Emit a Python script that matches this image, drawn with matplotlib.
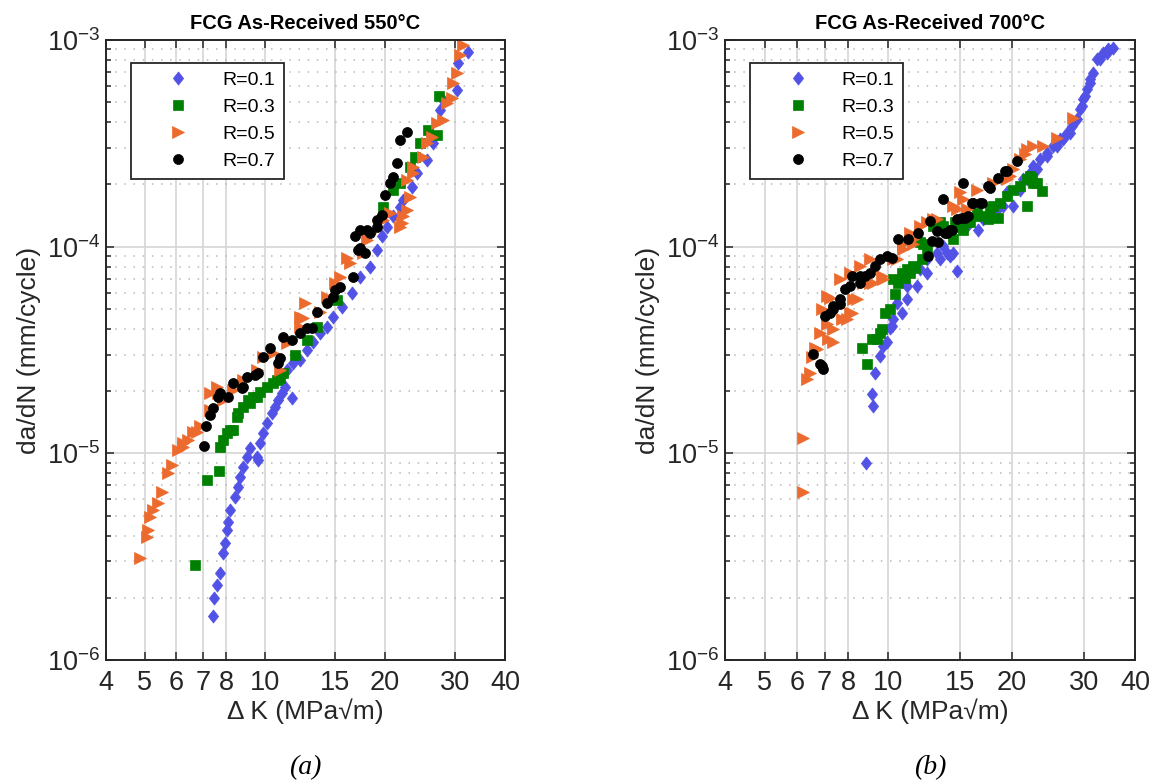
import numpy as np
import matplotlib
matplotlib.use('Agg')
import matplotlib.pyplot as plt
from matplotlib.ticker import FixedLocator, FixedFormatter, NullLocator, LogLocator

plt.rcParams['font.family'] = ['Liberation Sans', 'DejaVu Sans']
plt.rcParams['mathtext.fontset'] = 'custom'
plt.rcParams['mathtext.rm'] = 'Liberation Sans'
plt.rcParams['mathtext.it'] = 'Liberation Sans:italic'
plt.rcParams['mathtext.bf'] = 'Liberation Sans:bold'

# ---------------- data ----------------
# (a) 550 C
dk_550_r01 = [7.40, 7.47, 7.60, 7.72, 7.87, 7.95, 8.03, 8.10, 8.18, 8.42, 8.58, 8.67, 8.84, 9.01,
              9.19, 9.55, 9.62, 9.73, 9.91, 10.11, 10.41, 10.61, 10.81, 11.03, 11.24, 11.68, 11.35,
              11.79, 12.25, 12.74, 13.23, 13.75, 14.30, 14.85, 15.59, 16.52, 17.32, 18.35, 19.07,
              19.64, 20.21, 20.99, 21.82, 22.2, 23.35, 24.03, 25.46, 26.45, 27.49, 28.02, 30.26,
              30.55, 32.37]
dadn_550_r01 = [1.63e-6, 1.99e-6, 2.31e-6, 2.63e-6, 3.29e-6, 3.69e-6, 4.26e-6, 4.67e-6, 5.32e-6,
                6.17e-6, 6.90e-6, 7.71e-6, 8.63e-6, 9.64e-6, 1.06e-5, 9.64e-6, 9.29e-6, 1.12e-5,
                1.25e-5, 1.40e-5, 1.56e-5, 1.68e-5, 1.81e-5, 1.95e-5, 2.10e-5, 1.85e-5, 2.53e-5,
                2.73e-5, 2.83e-5, 3.16e-5, 3.47e-5, 3.81e-5, 4.10e-5, 4.58e-5, 5.13e-5, 5.95e-5,
                7.16e-5, 8.0e-5, 9.64e-5, 1.12e-4, 1.25e-4, 1.40e-4, 1.56e-4, 1.68e-4, 1.95e-4,
                2.26e-4, 2.63e-4, 3.16e-4, 4.58e-4, 5.13e-4, 5.73e-4, 7.71e-4, 8.78e-4]

dk_550_r03 = [6.69, 7.15, 7.69, 7.72, 7.87, 8.03, 8.18, 8.34, 8.50, 8.58, 8.84, 9.09, 9.19, 9.36,
              9.55, 9.73, 10.11, 10.50, 10.71, 10.92, 11.13, 11.90, 12.74, 13.49, 15.14, 19.82,
              20.99, 21.82, 23.12, 23.8, 24.5, 25.7, 26.97, 27.4]
dadn_550_r03 = [2.88e-6, 7.43e-6, 8.24e-6, 1.077e-5, 1.161e-5, 1.25e-5, 1.30e-5, 1.30e-5, 1.505e-5,
                1.56e-5, 1.68e-5, 1.81e-5, 1.745e-5, 1.88e-5, 1.88e-5, 1.99e-5, 2.10e-5, 2.18e-5,
                2.26e-5, 2.31e-5, 2.44e-5, 2.99e-5, 3.54e-5, 4.10e-5, 5.52e-5, 1.56e-4, 1.88e-4,
                2.03e-4, 2.44e-4, 2.72e-4, 3.16e-4, 3.67e-4, 3.47e-4, 5.36e-4]

dk_550_r05 = [4.87, 5.06, 5.11, 5.16, 5.25, 5.41, 5.52, 5.73, 5.85, 6.07, 6.25, 6.25, 6.43, 6.62,
              6.75, 6.88, 7.29, 7.29, 7.58, 7.65, 7.87, 8.34, 8.84, 9.55, 9.91, 10.50, 10.92, 11.35,
              12.25, 12.25, 12.49, 12.61, 13.75, 14.30, 15.0, 15.44, 16.05, 16.35, 17.65, 18.01,
              18.35, 19.82, 20.6, 21.82, 22.04, 22.25, 22.68, 23.12, 22.68, 23.57, 23.57, 24.97,
              25.46, 26.2, 26.97, 28.02, 28.58, 29.41, 29.69, 30.26, 30.85, 31.45]
dadn_550_r05 = [3.11e-6, 3.95e-6, 4.26e-6, 4.94e-6, 5.32e-6, 5.74e-6, 6.53e-6, 8.01e-6, 8.79e-6,
                1.038e-5, 1.077e-5, 1.12e-5, 1.161e-5, 1.27e-5, 1.27e-5, 1.35e-5, 1.62e-5, 1.95e-5,
                2.10e-5, 1.95e-5, 1.81e-5, 2.03e-5, 2.26e-5, 2.53e-5, 2.94e-5, 3.05e-5, 2.53e-5,
                3.41e-5, 4.10e-5, 4.58e-5, 4.50e-5, 5.32e-5, 4.85e-5, 5.73e-5, 6.65e-5, 7.16e-5,
                8.79e-5, 8.31e-5, 9.29e-5, 1.077e-4, 1.161e-4, 1.35e-4, 1.45e-4, 1.25e-4, 1.30e-4,
                1.40e-4, 1.505e-4, 1.745e-4, 2.10e-4, 2.26e-4, 2.44e-4, 2.72e-4, 3.16e-4, 3.40e-4,
                3.95e-4, 4.10e-4, 4.94e-4, 5.22e-4, 6.17e-4, 6.90e-4, 8.46e-4, 9.46e-4]

dk_550_r07 = [7.04, 7.12, 7.29, 7.43, 7.65, 7.72, 8.10, 8.34, 8.75, 8.84, 9.01, 9.45, 9.63, 9.91,
              10.3, 10.81, 10.92, 11.13, 11.68, 12.25, 12.74, 13.1, 13.49, 14.30, 14.85, 15.0, 15.44,
              16.67, 17.16, 17.32, 17.83, 16.83, 17.32, 18.0, 18.35, 19.07, 19.07, 19.64, 20.0, 20.6,
              20.99, 21.4, 21.82, 22.68]
dadn_550_r07 = [1.089e-5, 1.35e-5, 1.53e-5, 1.65e-5, 1.88e-5, 1.95e-5, 1.88e-5, 2.18e-5, 2.07e-5,
                2.10e-5, 2.35e-5, 2.39e-5, 2.44e-5, 2.94e-5, 3.22e-5, 2.73e-5, 2.88e-5, 3.67e-5,
                3.54e-5, 3.81e-5, 4.03e-5, 4.03e-5, 4.85e-5, 5.32e-5, 5.73e-5, 6.17e-5, 6.40e-5,
                7.16e-5, 9.64e-5, 9.82e-5, 9.29e-5, 1.12e-4, 1.20e-4, 1.20e-4, 1.161e-4, 1.25e-4,
                1.35e-4, 1.42e-4, 1.78e-4, 2.03e-4, 2.18e-4, 2.53e-4, 3.28e-4, 3.60e-4]

# (b) 700 C
dk_700_r01 = [8.83, 9.12, 9.20, 9.29, 9.55, 9.73, 9.92, 10.10, 10.20, 10.29, 10.79, 10.49, 11.10,
              11.10, 11.74, 11.96, 12.42, 12.42, 13.13, 13.38, 13.63, 13.89, 14.16, 14.42, 14.70,
              15.54, 16.59, 17.06, 17.72, 18.40, 18.74, 19.09, 19.46, 20.2, 20.97, 21.36, 21.78,
              22.18, 22.6, 23.03, 23.46, 24.36, 24.36, 25.28, 25.77, 26.25, 26.74, 27.26, 27.77,
              28.04, 28.83, 29.37, 29.65, 29.92, 30.2, 30.5, 31.06, 31.06, 31.65, 32.26, 32.86,
              33.48, 34.12, 34.43, 35.42]
dadn_700_r01 = [8.95e-6, 1.93e-5, 1.70e-5, 2.46e-5, 2.96e-5, 3.31e-5, 3.44e-5, 4.06e-5, 4.13e-5,
                4.45e-5, 4.80e-5, 5.36e-5, 5.56e-5, 6.45e-5, 6.45e-5, 7.78e-5, 7.49e-5, 8.69e-5,
                9.36e-5, 8.69e-5, 1.01e-4, 9.36e-5, 9.02e-5, 9.36e-5, 7.6e-5, 1.26e-4, 1.21e-4,
                1.36e-4, 1.46e-4, 1.52e-4, 1.57e-4, 1.57e-4, 1.83e-4, 1.57e-4, 1.89e-4, 2.12e-4,
                2.12e-4, 2.28e-4, 2.46e-4, 2.37e-4, 2.65e-4, 2.75e-4, 2.85e-4, 3.07e-4, 3.07e-4,
                3.31e-4, 3.31e-4, 3.56e-4, 3.56e-4, 3.84e-4, 4.13e-4, 4.62e-4, 4.79e-4, 5.16e-4,
                5.36e-4, 5.77e-4, 6.22e-4, 6.45e-4, 6.95e-4, 8.06e-4, 8.06e-4, 8.69e-4, 8.69e-4,
                9.02e-4, 9.19e-4]

dk_700_r03 = [8.62, 8.87, 9.12, 9.38, 9.55, 9.64, 9.82, 10.10, 10.39, 10.59, 10.29, 10.99, 10.79,
              11.31, 11.10, 11.62, 11.52, 12.07, 12.42, 12.18, 11.96, 12.88, 13.38, 13.63, 14.16,
              14.42, 14.56, 15.12, 15.25, 15.54, 15.83, 16.44, 16.75, 17.55, 18.56, 17.72, 18.05,
              18.74, 19.46, 20.2, 20.97, 21.78, 22.18, 22.39, 22.6, 23.03, 23.69, 21.78]
dadn_700_r03 = [3.25e-5, 2.70e-5, 3.56e-5, 3.56e-5, 3.84e-5, 3.98e-5, 4.80e-5, 4.98e-5, 5.88e-5,
                6.70e-5, 6.95e-5, 7.09e-5, 7.49e-5, 7.49e-5, 7.78e-5, 7.92e-5, 8.07e-5, 8.69e-5,
                9.71e-5, 1.03e-4, 1.05e-4, 1.26e-4, 1.31e-4, 1.26e-4, 1.21e-4, 1.09e-4, 1.31e-4,
                1.24e-4, 1.21e-4, 1.31e-4, 1.31e-4, 1.46e-4, 1.41e-4, 1.36e-4, 1.38e-4, 1.52e-4,
                1.57e-4, 1.63e-4, 1.76e-4, 1.89e-4, 1.97e-4, 2.12e-4, 2.20e-4, 2.16e-4, 2.04e-4,
                2.04e-4, 1.86e-4, 1.57e-4]

dk_700_r05 = [6.21, 6.21, 6.33, 6.45, 6.51, 6.63, 6.70, 6.82, 6.89, 7.08, 7.08, 7.15, 7.21, 7.35,
              7.35, 7.63, 7.70, 7.92, 8.07, 8.07, 8.15, 8.22, 8.38, 8.54, 8.70, 9.03, 9.03, 9.20,
              9.64, 9.73, 10.29, 10.49, 10.89, 10.89, 11.31, 11.52, 11.52, 11.96, 12.42, 12.88,
              13.13, 14.42, 14.70, 14.97, 15.25, 15.54, 16.44, 18.05, 19.46, 19.82, 20.2, 20.97,
              21.57, 21.78, 22.6, 23.9, 25.77, 28.28]
dadn_700_r05 = [6.51e-6, 1.19e-5, 2.28e-5, 2.46e-5, 2.91e-5, 3.25e-5, 3.19e-5, 3.84e-5, 4.98e-5,
                4.21e-5, 5.77e-5, 3.56e-5, 5.67e-5, 3.44e-5, 3.98e-5, 6.95e-5, 4.45e-5, 4.45e-5,
                4.80e-5, 7.49e-5, 4.80e-5, 5.56e-5, 5.56e-5, 8.07e-5, 6.70e-5, 6.70e-5, 8.69e-5,
                6.70e-5, 7.21e-5, 6.95e-5, 8.69e-5, 8.69e-5, 9.71e-5, 1.03e-4, 1.17e-4, 1.03e-4,
                1.09e-4, 1.26e-4, 1.31e-4, 1.36e-4, 1.36e-4, 1.57e-4, 1.52e-4, 1.83e-4, 1.70e-4,
                1.52e-4, 1.89e-4, 2.04e-4, 2.12e-4, 2.20e-4, 2.37e-4, 2.65e-4, 2.80e-4, 2.96e-4,
                3.07e-4, 3.07e-4, 3.37e-4, 4.21e-4]

dk_700_r07 = [6.57, 6.82, 6.89, 6.95, 7.01, 7.21, 7.35, 7.35, 7.63, 7.63, 7.85, 8.07, 8.15, 8.54,
              8.54, 8.78, 9.03, 9.29, 9.55, 9.92, 10.20, 10.59, 11.2, 11.85, 12.53, 12.65, 12.77,
              13.13, 13.26, 13.63, 13.76, 13.89, 14.16, 14.29, 14.70, 15.12, 15.40, 15.68, 15.25,
              15.99, 16.13, 16.75, 16.91, 17.55, 17.72, 18.56, 19.28, 19.46, 20.58]
dadn_700_r07 = [3.02e-5, 2.70e-5, 2.65e-5, 2.55e-5, 4.62e-5, 4.80e-5, 5.16e-5, 4.98e-5, 5.26e-5,
                5.56e-5, 6.22e-5, 6.45e-5, 7.21e-5, 6.70e-5, 7.21e-5, 7.21e-5, 7.49e-5, 8.07e-5,
                8.69e-5, 9.02e-5, 8.86e-5, 1.09e-4, 1.09e-4, 1.17e-4, 9.02e-5, 1.33e-4, 1.07e-4,
                1.19e-4, 1.05e-4, 1.70e-4, 1.17e-4, 1.17e-4, 1.21e-4, 1.21e-4, 1.36e-4, 1.38e-4,
                1.38e-4, 1.41e-4, 2.04e-4, 1.63e-4, 1.63e-4, 1.63e-4, 1.63e-4, 1.97e-4, 1.93e-4,
                2.16e-4, 2.32e-4, 2.32e-4, 2.60e-4]

labels = ['R=0.1', 'R=0.3', 'R=0.5', 'R=0.7']
xticks = [4, 5, 6, 7, 8, 10, 15, 20, 30, 40]

# marker styles, MATLAB-like
diamond = [(0, 1), (0.78, 0), (0, -1), (-0.78, 0), (0, 1)]
styles = [
    dict(marker=diamond, color='#5252E6', markersize=9.5),
    dict(marker='s', color='#008000', markersize=6.5),
    dict(marker='>', color='#EC6A2D', markersize=8.5),
    dict(marker='o', color='#000000', markersize=7.2),
]

panels = [
    ('FCG As-Received 550°C', '(a)',
     [(dk_550_r01, dadn_550_r01), (dk_550_r03, dadn_550_r03),
      (dk_550_r05, dadn_550_r05), (dk_550_r07, dadn_550_r07)]),
    ('FCG As-Received 700°C', '(b)',
     [(dk_700_r01, dadn_700_r01), (dk_700_r03, dadn_700_r03),
      (dk_700_r05, dadn_700_r05), (dk_700_r07, dadn_700_r07)]),
]

W, H = 1156, 784
fig = plt.figure(figsize=(W / 100, H / 100), dpi=100)
boxes = [(106, 40, 399, 620), (725, 40, 410, 620)]
textc = '#262626'

for (title, tag, series), (x0, y0, w, h) in zip(panels, boxes):
    ax = fig.add_axes([x0 / W, 1 - (y0 + h) / H, w / W, h / H])
    handles = []
    for (dk, dadn), st in zip(series, styles):
        ln, = ax.plot(dk, dadn, linestyle='none', marker=st['marker'],
                      markersize=st['markersize'], markerfacecolor=st['color'],
                      markeredgecolor=st['color'], markeredgewidth=0.5)
        handles.append(ln)

    ax.set_xscale('log')
    ax.set_yscale('log')
    ax.set_xlim(4, 40)
    ax.set_ylim(1e-6, 1e-3)
    ax.xaxis.set_major_locator(FixedLocator(xticks))
    ax.xaxis.set_major_formatter(FixedFormatter([str(t) for t in xticks]))
    ax.xaxis.set_minor_locator(NullLocator())
    ax.yaxis.set_major_locator(LogLocator(base=10, numticks=10))
    ax.yaxis.set_minor_locator(LogLocator(base=10, subs=np.arange(2, 10), numticks=20))

    ax.set_axisbelow(True)
    ax.grid(which='major', color='#d6d6d6', linestyle='-', linewidth=1.2)
    ax.grid(which='minor', axis='y', color='#b8b8b8', linestyle=(0, (1, 5)), linewidth=1.1)

    ax.tick_params(which='both', direction='in', top=True, right=True,
                   colors=textc, labelcolor=textc, width=1.1)
    ax.tick_params(which='major', length=6, labelsize=19.5)
    ax.tick_params(which='minor', length=3.5)
    ax.tick_params(axis='x', pad=7)
    ax.tick_params(axis='y', pad=4)
    for sp in ax.spines.values():
        sp.set_color(textc)
        sp.set_linewidth(1.4)

    ax.set_title(title, fontsize=14.5, fontweight='bold', color='black', pad=8)
    ax.set_xlabel('Δ K (MPa√m)', fontsize=19, color=textc, labelpad=2)
    ax.set_ylabel('da/dN (mm/cycle)', fontsize=19, color=textc, labelpad=4)

    leg = ax.legend(handles, labels, loc='upper left', bbox_to_anchor=(0.062, 0.963),
                    fontsize=14, frameon=True, fancybox=False, framealpha=1,
                    edgecolor='#262626', borderpad=0.45, handlelength=4.0,
                    handletextpad=0.25, labelspacing=0.48, borderaxespad=0)
    leg.get_frame().set_linewidth(1.3)

    fig.text((x0 + w / 2) / W, 1 - 768 / H, tag, ha='center', va='center',
             fontsize=20, style='italic', family='Liberation Serif')

fig.savefig('out.png', dpi=100)
